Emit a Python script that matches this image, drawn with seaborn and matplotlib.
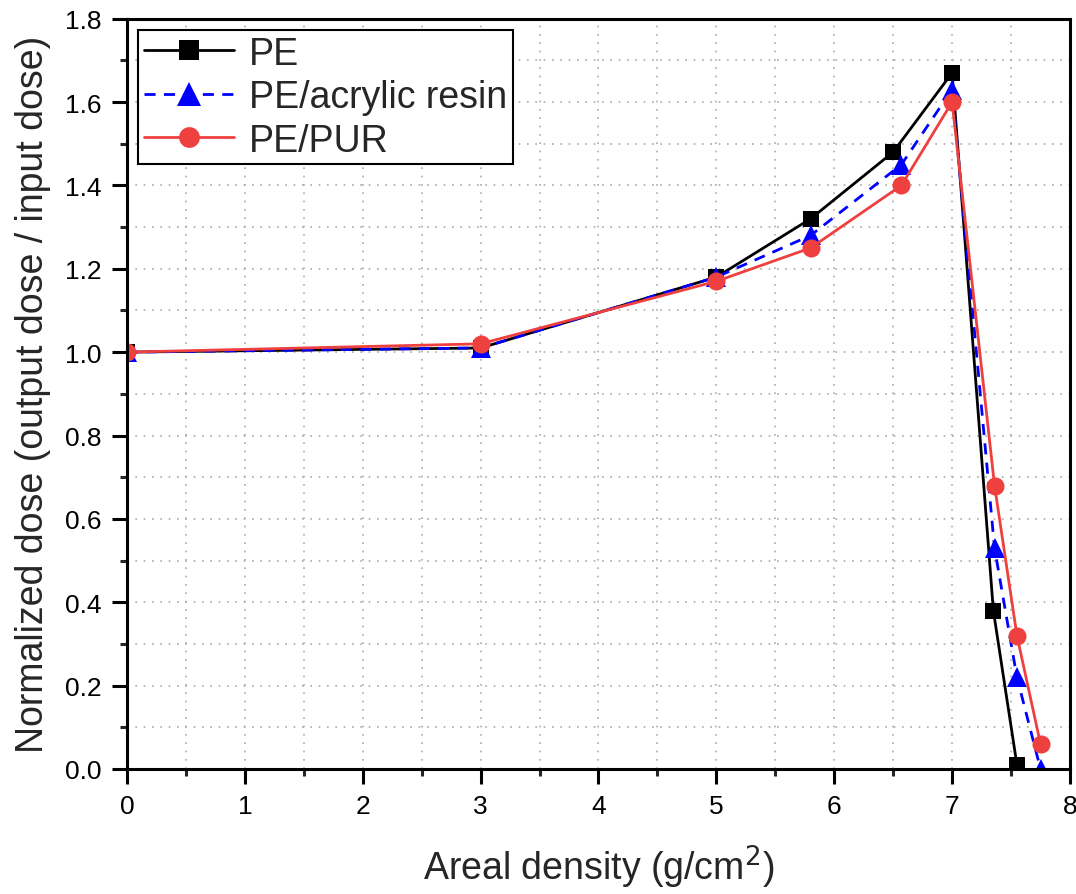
import matplotlib
matplotlib.use("Agg")
import matplotlib.pyplot as plt
from matplotlib.ticker import MultipleLocator
import seaborn as sns

# data
pe_x = [0, 3, 5, 5.8, 6.5, 7.0, 7.35, 7.55]
pe_y = [1.0, 1.01, 1.18, 1.32, 1.48, 1.67, 0.38, 0.01]

acr_x = [0, 3, 5, 5.8, 6.57, 7.0, 7.36, 7.55, 7.75]
acr_y = [1.0, 1.01, 1.18, 1.28, 1.45, 1.63, 0.53, 0.22, 0.0]

pur_x = [0, 3, 5, 5.8, 6.57, 7.0, 7.36, 7.55, 7.75]
pur_y = [1.0, 1.02, 1.17, 1.25, 1.40, 1.60, 0.68, 0.32, 0.06]

series = ["PE", "PE/acrylic resin", "PE/PUR"]


def main():
    sns.set_style("white")
    plt.rcParams["font.family"] = ["Liberation Sans", "DejaVu Sans"]

    fig = plt.figure(figsize=(10.76, 8.95), dpi=100)
    ax = fig.add_axes([0.118, 0.1397, 0.8764, 0.8383])

    # one call per series so each marker can get its own size
    sns.lineplot(x=pe_x, y=pe_y, label=series[0], color="black", marker="s",
                 markersize=12, markeredgewidth=0, linewidth=2, sort=False, ax=ax)
    sns.lineplot(x=acr_x, y=acr_y, label=series[1], color="blue", marker="^",
                 markersize=15, markeredgewidth=0, linewidth=2, linestyle=(0, (4, 3)),
                 sort=False, ax=ax)
    sns.lineplot(x=pur_x, y=pur_y, label=series[2], color="#ef4040", marker="o",
                 markersize=13, markeredgewidth=0, linewidth=2, sort=False, ax=ax)

    ax.set_xlim(0, 8)
    ax.set_ylim(0, 1.8)
    ax.xaxis.set_major_locator(MultipleLocator(1))
    ax.xaxis.set_minor_locator(MultipleLocator(0.5))
    ax.yaxis.set_major_locator(MultipleLocator(0.2))
    ax.yaxis.set_minor_locator(MultipleLocator(0.1))
    ax.yaxis.set_major_formatter(plt.FormatStrFormatter("%.1f"))

    ax.grid(True, which="both", linestyle=(0, (1, 4)), color="#aaaaaa", linewidth=1.2)
    ax.tick_params(which="major", direction="out", length=11, width=2.2,
                   labelsize=19, pad=7, left=True, bottom=True, colors="black")
    ax.tick_params(which="minor", direction="out", length=5, width=2.2,
                   left=True, bottom=True)
    for s in ax.spines.values():
        s.set_color("black")
        s.set_linewidth(2.2)

    ax.set_xlabel("Areal density (g/cm$^2$)", fontsize=27, labelpad=18)
    ax.set_ylabel("Normalized dose (output dose / input dose)", fontsize=27, labelpad=10)

    leg = ax.legend(loc="upper left", fontsize=27, frameon=True, fancybox=False,
                    edgecolor="black", handlelength=2.4, borderpad=0.15,
                    labelspacing=0.2, handletextpad=0.4, borderaxespad=0.3,
                    markerscale=1.15)
    leg.get_frame().set_linewidth(1.5)
    leg.get_frame().set_alpha(1)

    fig.savefig("out.png", dpi=100)


if __name__ == "__main__":
    main()
